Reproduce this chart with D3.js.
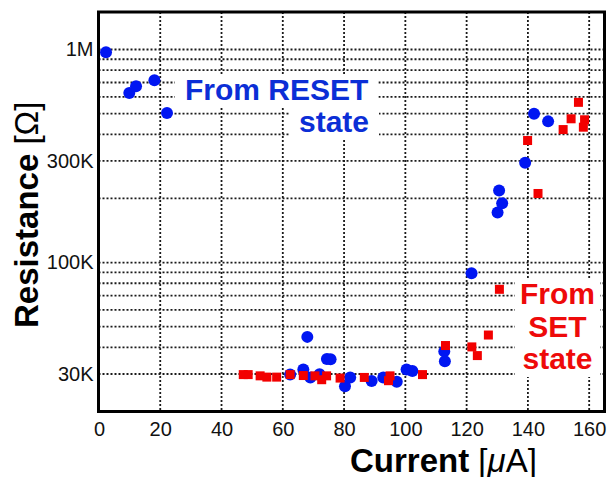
<!DOCTYPE html>
<html>
<head>
<meta charset="utf-8">
<script src="https://cdn.jsdelivr.net/npm/d3@7/dist/d3.min.js"></script>
<style>
  html, body { margin: 0; padding: 0; background: #fff; }
  svg { display: block; }
  text { font-family: Arial, "Liberation Sans", sans-serif; }
</style>
</head>
<body>
<svg id="chart" width="607" height="477"></svg>
<script>
// Resistance read after programming pulses, starting from the RESET state (blue)
const resetCurrent = [2.3, 9.9, 12.1, 18.1, 22.2, 62.4, 66.7, 68.0, 69.0, 72.0, 74.4, 75.6,
  80.3, 82.0, 89.0, 92.8, 97.2, 100.4, 102.3, 112.7, 112.9, 121.6, 130.1, 131.6, 130.6,
  139.1, 142.0, 146.6];
const resetResistance = [970000, 625000, 672000, 717000, 503000, 29800, 31500, 44800, 28900,
  29900, 35300, 35200, 26300, 28900, 27800, 28900, 27600, 31500, 31000, 38300, 34400, 89000,
  172000, 190000, 218000, 294000, 500000, 460000];

// ... and starting from the SET state (red)
const setCurrent = [47.1, 48.7, 52.6, 54.8, 58.0, 62.4, 66.7, 70.5, 72.7, 74.3, 78.7, 86.6,
  94.5, 95.0, 105.6, 113.1, 121.7, 123.5, 127.1, 130.7, 139.9, 143.3, 151.5, 154.1, 156.5,
  158.1, 158.5];
const setResistance = [29800, 29800, 29400, 29000, 29000, 29800, 29500, 29400, 28200, 29400,
  28700, 28900, 27900, 29400, 29800, 40800, 40200, 36600, 45700, 74900, 374000, 211000,
  421000, 473000, 565000, 432000, 468000];

// Axis ticks
const xTickValues = [0, 20, 40, 60, 80, 100, 120, 140, 160];
const yTickValues = [30000, 100000, 300000, 1000000];
const yTickLabels = ["30K", "100K", "300K", "1M"];
const yGridValues = [30000, 40000, 50000, 60000, 70000, 80000, 90000,
  100000, 200000, 300000, 400000, 500000, 600000, 700000, 800000, 900000, 1000000];

const svg = d3.select("#chart");
const plotLeft = 98.5, plotRight = 604.5, plotTop = 12, plotBottom = 411.5;

const x = d3.scaleLinear().domain([-0.15, 165]).range([plotLeft, plotRight]);
const y = d3.scaleLog().domain([20000, 1500000]).range([plotBottom, plotTop]);

// dotted grid
const grid = svg.append("g").attr("stroke", "#1a1a1a").attr("stroke-width", 1.8)
  .attr("stroke-dasharray", "2,2").attr("fill", "none");
grid.selectAll("line.h").data(yGridValues).join("line")
  .attr("class", "h")
  .attr("x1", plotLeft).attr("x2", plotRight)
  .attr("y1", d => y(d)).attr("y2", d => y(d));
grid.selectAll("line.v").data(xTickValues.filter(d => d > 0)).join("line")
  .attr("class", "v")
  .attr("y1", plotTop).attr("y2", plotBottom)
  .attr("x1", d => x(d)).attr("x2", d => x(d));

// annotations on white backing
const notes = svg.append("g");

function backedLines(lines, color, pad, union) {
  const g = notes.append("g");
  const bg = g.append("g");
  const texts = lines.map(l => g.append("text")
    .attr("x", l.x).attr("y", l.y)
    .attr("text-anchor", l.anchor)
    .attr("font-size", 30).attr("font-weight", "bold")
    .attr("fill", color).text(l.t));
  const boxes = texts.map(t => t.node().getBBox());
  if (union) {
    const x0 = d3.min(boxes, b => b.x) - pad, x1 = d3.max(boxes, b => b.x + b.width) + pad;
    const y0 = d3.min(boxes, b => b.y) + 3, y1 = d3.max(boxes, b => b.y + b.height) + 2;
    bg.append("rect").attr("x", x0).attr("y", y0).attr("width", x1 - x0).attr("height", y1 - y0).attr("fill", "#fff");
  } else {
    boxes.forEach(b => bg.append("rect").attr("x", b.x - pad).attr("y", b.y + 2)
      .attr("width", b.width + 2 * pad).attr("height", b.height).attr("fill", "#fff"));
  }
}

backedLines([
  { t: "From RESET", x: 185, y: 100, anchor: "start" },
  { t: "state", x: 369, y: 131.5, anchor: "end" }
], "#0b2ed6", 10, false);

backedLines([
  { t: "From", x: 557.5, y: 304, anchor: "middle" },
  { t: "SET", x: 557.5, y: 336.5, anchor: "middle" },
  { t: "state", x: 557.5, y: 369, anchor: "middle" }
], "#ee0a0a", 5, true);

// markers
svg.append("g").selectAll("circle").data(d3.range(resetCurrent.length)).join("circle")
  .attr("cx", i => x(resetCurrent[i])).attr("cy", i => y(resetResistance[i]))
  .attr("r", 6).attr("fill", "#0016f2");

const s = 9;
svg.append("g").selectAll("rect").data(d3.range(setCurrent.length)).join("rect")
  .attr("x", i => x(setCurrent[i]) - s / 2).attr("y", i => y(setResistance[i]) - s / 2)
  .attr("width", s).attr("height", s).attr("fill", "#f20000");

// frame
svg.append("rect").attr("x", plotLeft).attr("y", plotTop)
  .attr("width", plotRight - plotLeft).attr("height", plotBottom - plotTop)
  .attr("fill", "none").attr("stroke", "#000").attr("stroke-width", 3);

// axes (labels only)
const xAxis = svg.append("g").attr("transform", `translate(0,${plotBottom})`)
  .call(d3.axisBottom(x).tickValues(xTickValues).tickSize(0).tickPadding(10));
xAxis.select(".domain").remove();
xAxis.selectAll("text").attr("font-size", 20).attr("fill", "#111")
  .attr("font-family", "Arial, 'Liberation Sans', sans-serif");

const yAxis = svg.append("g").attr("transform", `translate(${plotLeft},0)`)
  .call(d3.axisLeft(y).tickValues(yTickValues).tickSize(0).tickPadding(5)
    .tickFormat((d, i) => yTickLabels[i]));
yAxis.select(".domain").remove();
yAxis.selectAll("text").attr("font-size", 20).attr("fill", "#111")
  .attr("font-family", "Arial, 'Liberation Sans', sans-serif");

// axis titles
const xt = svg.append("text").attr("x", 350).attr("y", 471.5).attr("font-size", 33).attr("fill", "#000");
xt.append("tspan").attr("font-weight", "bold").text("Current");
xt.append("tspan").text(" [");
xt.append("tspan").attr("font-style", "italic").text("μ");
xt.append("tspan").text("A]");

const yt = svg.append("text").attr("transform", "translate(38,328) rotate(-90)")
  .attr("font-size", 33).attr("fill", "#000");
yt.append("tspan").attr("font-weight", "bold").text("Resistance");
yt.append("tspan").text(" [Ω]");
</script>
</body>
</html>
